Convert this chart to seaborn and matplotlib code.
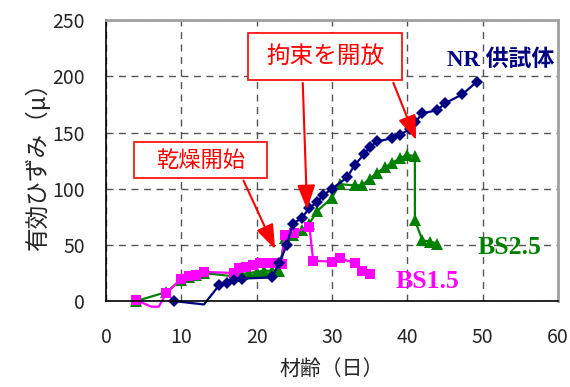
import seaborn as sns
import matplotlib.pyplot as plt
from matplotlib.patches import Rectangle

# data
nr_day = [9, 13, 15, 16, 17, 18, 22, 23, 24, 24.8, 26, 27, 28, 28.8, 30, 32, 33, 34.3,
          35, 36, 38, 39, 40.3, 41, 42, 44, 45, 47.3, 49.2]
nr_val = [0, -3, 14, 16, 19, 20, 21, 34, 50, 69, 74, 83, 88, 94, 100, 110, 121, 131,
          137, 142, 145, 148, 153, 159, 167, 170, 176, 184, 195]

bs25_day = [4, 8, 10, 11, 12, 13, 17, 18, 19, 20, 21, 22, 23, 23.7, 24.8, 26, 27, 28,
            30, 31, 33, 34, 35, 36, 37, 38, 39, 40, 41, 41, 42, 43, 44]
bs25_val = [0, 8, 19, 21, 23, 25, 22, 24, 25, 26, 27, 27, 27, 56, 59, 63, 69, 80,
            92, 104, 103, 103, 109, 114, 119, 123, 127, 130, 129, 72, 54, 53, 51]

bs15_day = [4, 6, 7, 8, 10, 11, 12, 13, 17, 17.7, 18.6, 19.5, 20.4, 21.3, 22.3, 23.3,
            23.7, 25, 27, 27.5, 30, 31, 33, 34, 35]
bs15_val = [1, -5, -5, 7, 20, 22, 23, 26, 25, 29, 30, 32, 34, 34, 34, 33,
            59, 61, 66, 36, 35, 38, 34, 27, 24]

sns.set_style('white')
plt.rcParams['font.family'] = ['Noto Sans CJK JP', 'DejaVu Sans']

fig = plt.figure(figsize=(5.7, 3.87), dpi=100)
ax = fig.add_axes([0.186, 0.222, 0.793, 0.726])

sns.lineplot(x=bs25_day, y=bs25_val, sort=False, estimator=None, ax=ax, clip_on=False,
             color='#008000', marker='^', markersize=8, markeredgewidth=0, lw=1.6)
sns.lineplot(x=bs15_day, y=bs15_val, sort=False, estimator=None, ax=ax, clip_on=False,
             color='#FF00FF', marker='s', markersize=7.5, markeredgewidth=0, lw=1.6,
             markevery=[i for i in range(len(bs15_day)) if i not in (1, 2)])
sns.lineplot(x=nr_day, y=nr_val, sort=False, estimator=None, ax=ax, clip_on=False,
             color='#000080', marker='D', markersize=6.5, markeredgewidth=0, lw=1.6,
             markevery=[i for i in range(len(nr_day)) if i != 1])

ax.set_xlim(0, 60)
ax.set_ylim(0, 250)
ax.set_xticks(range(0, 61, 10))
ax.set_yticks(range(0, 251, 50))
ax.tick_params(labelsize=14, length=0)
ax.tick_params(axis='y', pad=15)
ax.tick_params(axis='x', pad=19)
ax.grid(True, color='#555555', linestyle=(0, (5, 4)), lw=1)
for s in ['left', 'bottom']:
    ax.spines[s].set_color('black')
    ax.spines[s].set_linewidth(1.2)
for s in ['top', 'right']:
    ax.spines[s].set_color('#a0a0a0')
    ax.spines[s].set_linewidth(2)

ax.set_xlabel('材齢（日）', fontsize=15, labelpad=7)
ax.set_ylabel('有効ひずみ（μ）', fontsize=17, labelpad=2)

arrow = dict(arrowstyle='-|>,head_width=0.55,head_length=1.5', color='#FF0000', lw=1.5)

ax.add_patch(Rectangle((3.65, 109.4), 17.75, 32.1, fc='white', ec='#FF0000', lw=1.2, zorder=6))
ax.text(12.5, 125.4, '乾燥開始', color='#FF0000', fontsize=16, ha='center', va='center', zorder=7)
ax.annotate('', xy=(22.6, 44), xytext=(18.1, 109.4), arrowprops=arrow, zorder=6)

ax.add_patch(Rectangle((18.9, 196.6), 20.4, 41.8, fc='white', ec='#FF0000', lw=1.2, zorder=6))
ax.text(29.1, 217, '拘束を開放', color='#FF0000', fontsize=17, ha='center', va='center', zorder=7)
ax.annotate('', xy=(26.7, 79), xytext=(26.1, 196.6), arrowprops=arrow, zorder=6)
ax.annotate('', xy=(41.3, 141), xytext=(38.0, 196.6), arrowprops=arrow, zorder=6)

lab = ['Liberation Serif', 'Noto Sans CJK JP']
ax.text(45.3, 214, 'NR 供試体', color='#000080', fontsize=16.5, fontweight='bold',
        family=lab, va='center', clip_on=False)
ax.text(49.3, 48, 'BS2.5', color='#008000', fontsize=18.5, fontweight='bold',
        family=lab, va='center')
ax.text(38.5, 17, 'BS1.5', color='#FF00FF', fontsize=18.5, fontweight='bold',
        family=lab, va='center')

fig.savefig('out.png', dpi=100)
